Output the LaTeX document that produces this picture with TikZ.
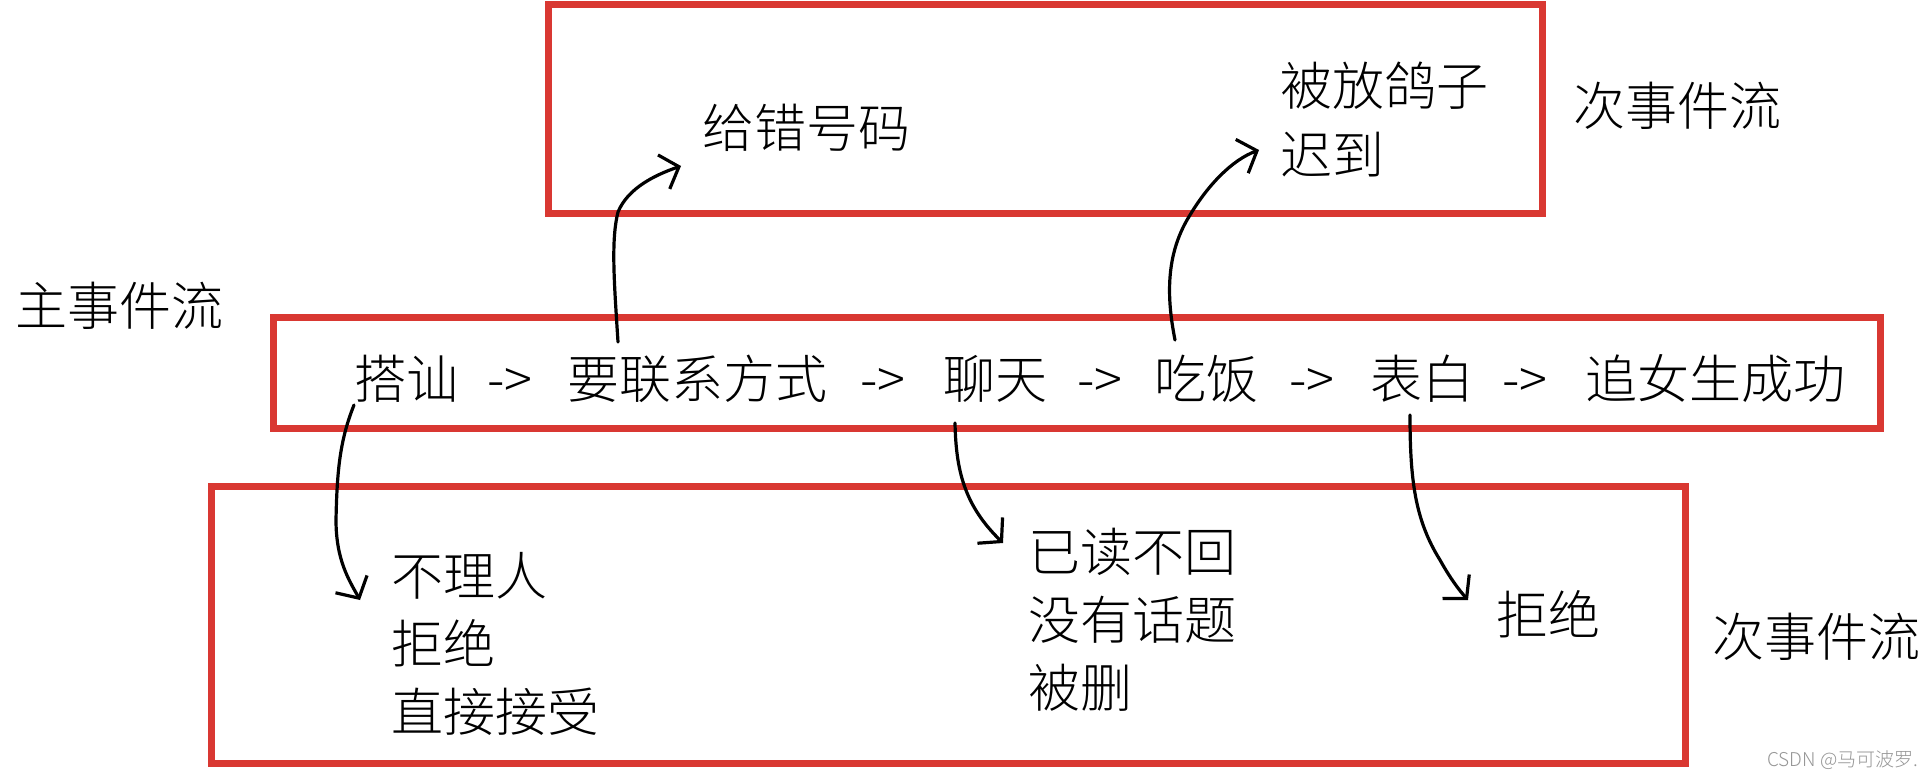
\documentclass[tikz,border=0pt]{standalone}
\usepackage{fontspec}
\newfontfamily\cjk{Noto Sans CJK SC Light}
\usetikzlibrary{arrows.meta}
\definecolor{boxred}{RGB}{217,56,50}
\definecolor{wmgray}{RGB}{150,150,150}
\begin{document}
\begin{tikzpicture}[x=1pt,y=-1pt,
  lbl/.style={font=\cjk\fontsize{52}{60}\selectfont, inner sep=0pt, anchor=base west},
  wm/.style={font=\cjk\fontsize{19}{22}\selectfont, text=wmgray, inner sep=0pt, anchor=base west},
  redbox/.style={draw=boxred, line width=7pt},
  flow/.style={draw=black, line width=3.2pt, line cap=round, line join=round,
    -{Straight Barb[length=16pt,width=36pt]}}
]
\fill[white] (0,0) rectangle (1932,777);
\useasboundingbox (0,0) rectangle (1932,777);

% boxes
\draw[redbox] (548,4) rectangle (1542,213);
\draw[redbox] (273,317) rectangle (1880,428);
\draw[redbox] (211,486) rectangle (1685,763);

% side labels
\node[lbl] (mainlbl) at (15,325) {主事件流};
\node[lbl] (sub1lbl) at (1573,125) {次事件流};
\node[lbl] (sub2lbl) at (1712,656) {次事件流};

% main line
\node[lbl] (s1) at (354,398) {搭讪};
\node[lbl] (r1) at (487,398) {->};
\node[lbl] (s2) at (567,398) {要联系方式};
\node[lbl] (r2) at (860,398) {->};
\node[lbl] (s3) at (943,398) {聊天};
\node[lbl] (r3) at (1077,398) {->};
\node[lbl] (s4) at (1154,398) {吃饭};
\node[lbl] (r4) at (1289,398) {->};
\node[lbl] (s5) at (1370,398) {表白};
\node[lbl] (r5) at (1502,398) {->};
\node[lbl] (s6) at (1585,398) {追女生成功};

% top box texts
\node[lbl] (t1) at (702,147) {给错号码};
\node[lbl] (t2a) at (1280,105) {被放鸽子};
\node[lbl] (t2b) at (1280,174) {迟到};

% bottom box texts
\node[lbl] (b1a) at (391,595) {不理人};
\node[lbl] (b1b) at (391,663) {拒绝};
\node[lbl] (b1c) at (391,731) {直接接受};
\node[lbl] (b2a) at (1028,571) {已读不回};
\node[lbl] (b2b) at (1028,639) {没有话题};
\node[lbl] (b2c) at (1028,707) {被删};
\node[lbl] (b3) at (1496,634) {拒绝};

% watermark
\node[wm] (wmk) at (1767,766) {CSDN @马可波罗.};

% connector end points
\coordinate (a1s) at (618,342);
\coordinate (a1e) at (681,166);
\coordinate (a2s) at (1175,340);
\coordinate (a2e) at (1259,150);
\coordinate (a3s) at (354,405);
\coordinate (a3e) at (360,600);
\coordinate (a4s) at (955,423);
\coordinate (a4e) at (1003,543);
\coordinate (a5s) at (1410,415);
\coordinate (a5e) at (1468,600);

% connectors
\draw[flow] (a1s) .. controls (614,280) and (611,240) .. (618,212)
  .. controls (628,188) and (655,175) .. (a1e);
\draw[flow] (a2s) .. controls (1165,290) and (1168,250) .. (1190,215)
  .. controls (1208,185) and (1232,160) .. (a2e);
\draw[flow] (a3s) .. controls (340,440) and (337,470) .. (336,520)
  .. controls (336,560) and (349,580) .. (a3e);
\draw[flow] (a4s) .. controls (956,470) and (964,505) .. (a4e);
\draw[flow] (a5s) .. controls (1410,480) and (1415,520) .. (1440,560)
  .. controls (1450,578) and (1459,590) .. (a5e);
\end{tikzpicture}
\end{document}
